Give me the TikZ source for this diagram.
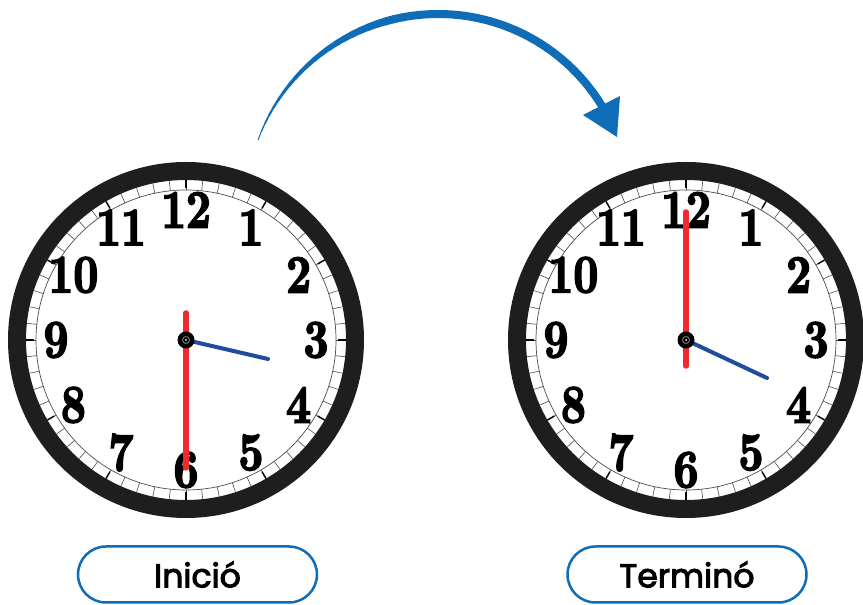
\documentclass[tikz,border=0pt]{standalone}
\usepackage{fontspec}
\newfontfamily\labelfont{Poppins}[FakeBold=3]
\newfontfamily\numfont{lmroman10-bold.otf}[FakeBold=3,FakeStretch=0.8]
\definecolor{ringgray}{HTML}{1E1E1E}
\definecolor{handred}{HTML}{EE2A2F}
\definecolor{handblue}{HTML}{1F4C9C}
\definecolor{arrowblue}{HTML}{0F6CB6}
\tikzset{
  ring/.style={circle,draw=ringgray,line width=18pt,minimum size=338pt,inner sep=0pt},
  numeral/.style={font=\numfont\fontsize{54}{54}\selectfont,inner sep=0pt},
  minhand/.style={draw=handred,line width=5.5pt,line cap=round},
  hourhand/.style={draw=handblue,line width=4pt,line cap=round},
  tag/.style={draw=arrowblue,line width=2.5pt,rounded corners=28pt,minimum width=239pt,
    minimum height=56pt,font=\labelfont\fontsize{33}{33}\selectfont}
}
\begin{document}
\begin{tikzpicture}[x=1pt,y=1pt]
  \fill[white] (0,0) rectangle (863,605);
  \useasboundingbox (0,0) rectangle (863,605);
  % the two clock faces
  \foreach \name/\cx in {start/186,end/686}{
    \node[ring] (\name-clock) at (\cx,265) {};
    \begin{scope}[shift={(\cx,265)}]
      \draw[line width=0.7pt,black!70] (0,0) circle (150);
      \foreach \m in {0,...,59}
        \draw[line width=0.6pt,black!70] (\m*6:150) -- (\m*6:160);
      \foreach \h in {1,...,12}
        \draw[line width=1.4pt] (90-\h*30:152) -- (90-\h*30:160);
      \foreach \q in {0,90,180,270}
        \draw[line width=2.4pt] (\q:152) -- (\q:160);
      \foreach \h in {1,...,12}
        \node[numeral] (\name-n\h) at (90-\h*30:130) {\h};
    \end{scope}
  }
  % hands
  \coordinate (start-c) at (186,265);
  \coordinate (end-c) at (686,265);
  \draw[minhand] (186,292) -- (186,137);
  \draw[hourhand] (start-c) -- ++(82,-19);
  \draw[minhand] (686,239) -- (686,393);
  \draw[hourhand] (end-c) -- ++(81,-38);
  \foreach \c in {start-c,end-c}{
    \fill[black] (\c) circle (8.5);
    \draw[black!55,line width=1pt] (\c) circle (3.5);
    \fill[white] (\c) circle (1);
  }
  % curved arrow
  \begin{scope}[shift={(438.2,399.2)}]
    \foreach \i in {0,...,47}{
      \pgfmathsetmacro\aa{159.9-\i*128.5/48}
      \pgfmathsetmacro\lw{1+7*min(1,\i/20)}
      \draw[arrowblue,line width=\lw pt] (\aa:191.8) arc[start angle=\aa,end angle=\aa-2.9,radius=191.8];
    }
  \end{scope}
  \fill[arrowblue] (583,490) -- (620,509) -- (617,468) -- cycle;
  % labels
  \node[tag] (inicio) at (197.5,30.5) {Inició};
  \node[tag] (termino) at (687,30.5) {Terminó};
\end{tikzpicture}
\end{document}
